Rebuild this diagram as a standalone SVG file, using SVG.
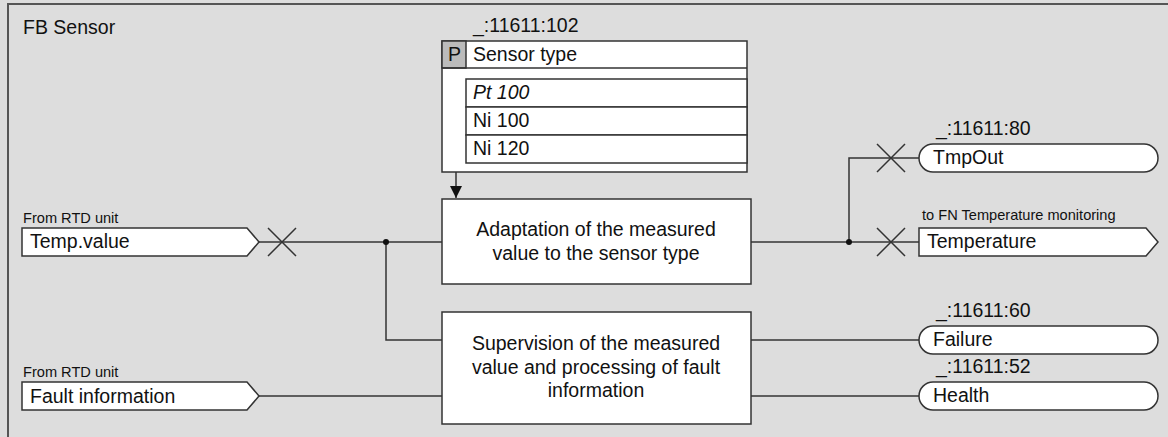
<svg xmlns="http://www.w3.org/2000/svg" width="1168" height="437" viewBox="0 0 1168 437">
<defs>
<style>
.bx{fill:#fff;stroke:#333;stroke-width:1.5}
.ln{fill:none;stroke:#333;stroke-width:1.5}
.t{font-family:"Liberation Sans",Arial,sans-serif;fill:#111}
.t16{font-size:19.5px}
.t12{font-size:14.6px}
.c{text-anchor:middle}
</style>
<marker id="ah" markerWidth="12" markerHeight="12" refX="10" refY="5" orient="auto" markerUnits="userSpaceOnUse" viewBox="0 0 10 10">
<path d="M0,0 L10,5 L0,10 Z" fill="#111"/>
</marker>
</defs>
<rect x="0" y="0" width="1168" height="437" fill="#dddddd"/>
<path d="M8,437 L8,4 L1168,4" fill="none" stroke="#555" stroke-width="2"/>
<text class="t t16" x="23" y="34">FB Sensor</text>

<g id="connectors">
<line class="ln" x1="456" y1="172" x2="456" y2="198" marker-end="url(#ah)"/>
<line class="ln" x1="259" y1="242" x2="442" y2="242"/>
<polyline class="ln" points="386,242 386,340 442,340"/>
<line class="ln" x1="259" y1="396" x2="442" y2="396"/>
<line class="ln" x1="751" y1="242" x2="919" y2="242"/>
<polyline class="ln" points="849,242 849,158 919,158"/>
<line class="ln" x1="751" y1="340" x2="919" y2="340"/>
<line class="ln" x1="751" y1="396" x2="919" y2="396"/>
<circle cx="386" cy="242" r="3" fill="#111"/>
<circle cx="849" cy="242" r="3" fill="#111"/>
<path class="ln" d="M268,228 L296,256 M268,256 L296,228"/>
<path class="ln" d="M877,144 L905,172 M877,172 L905,144"/>
<path class="ln" d="M877,228 L905,256 M877,256 L905,228"/>
</g>

<g id="param">
<text class="t t16" x="473" y="32">_:11611:102</text>
<rect class="bx" x="442" y="41" width="305" height="131"/>
<rect x="442" y="41" width="24" height="27" fill="#bbbbbb" stroke="#333" stroke-width="1.5"/>
<line class="ln" x1="442" y1="68" x2="747" y2="68"/>
<text class="t t16" x="448" y="61">P</text>
<text class="t t16" x="473" y="61">Sensor type</text>
<rect class="bx" x="466" y="79" width="281" height="28"/>
<rect class="bx" x="466" y="107" width="281" height="28"/>
<rect class="bx" x="466" y="135" width="281" height="28"/>
<text class="t t16" x="473" y="99" font-style="italic">Pt 100</text>
<text class="t t16" x="473" y="127">Ni 100</text>
<text class="t t16" x="473" y="155">Ni 120</text>
</g>

<g id="adapt">
<rect class="bx" x="442" y="199" width="309" height="85"/>
<text class="t t16 c" x="596" y="236">Adaptation of the measured</text>
<text class="t t16 c" x="596" y="260">value to the sensor type</text>
</g>

<g id="superv">
<rect class="bx" x="442" y="312" width="309" height="112"/>
<text class="t t16 c" x="596" y="350">Supervision of the measured</text>
<text class="t t16 c" x="596" y="374">value and processing of fault</text>
<text class="t t16 c" x="596" y="397">information</text>
</g>

<g id="in-temp">
<text class="t t12" x="23" y="223">From RTD unit</text>
<path class="bx" d="M22,228 L247,228 L259,242 L247,256 L22,256 Z"/>
<text class="t t16" x="30" y="248">Temp.value</text>
</g>

<g id="in-fault">
<text class="t t12" x="23" y="377">From RTD unit</text>
<path class="bx" d="M22,382 L247,382 L259,396 L247,410 L22,410 Z"/>
<text class="t t16" x="30" y="403">Fault information</text>
</g>

<g id="out-tmpout">
<text class="t t16" x="936" y="135">_:11611:80</text>
<rect class="bx" x="919" y="144" width="239" height="28" rx="14" ry="14"/>
<text class="t t16" x="933" y="164">TmpOut</text>
</g>

<g id="out-temp">
<text class="t t12" x="922" y="220">to FN Temperature monitoring</text>
<path class="bx" d="M919,228 L1146,228 L1158,242 L1146,256 L919,256 Z"/>
<text class="t t16" x="927" y="248">Temperature</text>
</g>

<g id="out-failure">
<text class="t t16" x="936" y="317">_:11611:60</text>
<rect class="bx" x="919" y="326" width="239" height="28" rx="14" ry="14"/>
<text class="t t16" x="933" y="346">Failure</text>
</g>

<g id="out-health">
<text class="t t16" x="936" y="373">_:11611:52</text>
<rect class="bx" x="919" y="382" width="239" height="28" rx="14" ry="14"/>
<text class="t t16" x="933" y="402">Health</text>
</g>
</svg>
